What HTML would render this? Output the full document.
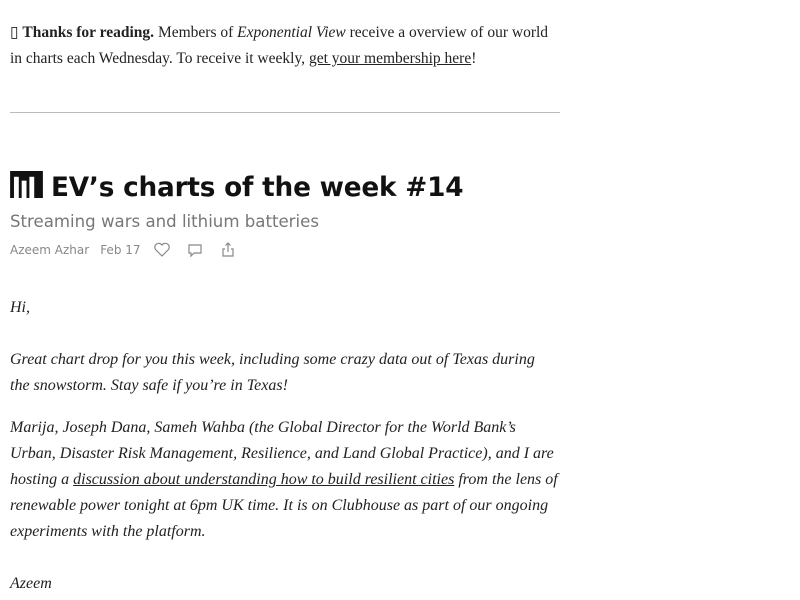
<!DOCTYPE html>
<html><head><meta charset="utf-8"><style>
body{margin:0;width:800px;height:600px;background:#fff;overflow:hidden;position:relative;font-family:"Liberation Serif",serif;color:#222}
.p{position:absolute;left:10px;width:548px;font-size:15.5px;line-height:26px;margin:0}
.it{font-style:italic;white-space:nowrap;width:560px;font-size:16px}
a{color:#222;text-decoration:underline}
h1{position:absolute;left:10px;top:168px;margin:0;font-family:"DejaVu Sans","Liberation Sans",sans-serif;font-weight:bold;font-size:26.3px;line-height:40px;color:#111;letter-spacing:-0.2px}
.sub{position:absolute;left:10px;top:208px;font-family:"DejaVu Sans","Liberation Sans",sans-serif;font-size:16.6px;color:#777;line-height:28px}
.meta{position:absolute;left:10px;top:240px;font-family:"DejaVu Sans","Liberation Sans",sans-serif;font-size:12px;color:#888;line-height:20px;display:flex;align-items:center}
</style></head><body>
<p class="p" style="top:20px">▯ <b>Thanks for reading.</b> Members of <i>Exponential View</i> receive a overview of our world in charts each Wednesday. To receive it weekly, <a>get your membership here</a>!</p>
<div style="position:absolute;left:10px;top:112px;width:550px;height:1px;background:#bbb"></div>
<h1><span style="display:inline-block;vertical-align:-2px;margin-right:8px"><svg width="33" height="27" viewBox="0 0 34 28"><rect x="0" y="0" width="34" height="28" fill="#111"/><rect x="4" y="6" width="5" height="22" fill="#fff"/><rect x="12" y="10" width="5" height="18" fill="#fff"/><rect x="20" y="6" width="5" height="22" fill="#fff"/></svg></span>EV’s charts of the week #14</h1>
<div class="sub">Streaming wars and lithium batteries</div>
<div class="meta">
<span>Azeem Azhar</span>
<span style="margin-left:11px">Feb 17</span>
<svg style="margin-left:12px" width="18" height="16" viewBox="0 0 18 16"><path d="M9 14 L2.5 7.5 A3.5 3.5 0 0 1 9 3 A3.5 3.5 0 0 1 15.5 7.5 Z" fill="none" stroke="#888" stroke-width="1.2"/></svg>
<svg style="margin-left:16px" width="16" height="16" viewBox="0 0 16 16"><path d="M2 3 H14 V11 H7 L4 14 V11 H2 Z" fill="none" stroke="#888" stroke-width="1.2"/></svg>
<svg style="margin-left:18px" width="14" height="16" viewBox="0 0 14 16"><path d="M4 7 H2 V14 H12 V7 H10 M7 10 V1 M4.5 3.5 L7 1 L9.5 3.5" fill="none" stroke="#888" stroke-width="1.2"/></svg>
</div>
<p class="p it" style="top:295px">Hi,</p>
<p class="p it" style="top:347px">Great chart drop for you this week, including some crazy data out of Texas during<br>the snowstorm. Stay safe if you’re in Texas!</p>
<p class="p it" style="top:415px">Marija, Joseph Dana, Sameh Wahba (the Global Director for the World Bank’s<br>Urban, Disaster Risk Management, Resilience, and Land Global Practice), and I are<br>hosting a <a>discussion about understanding how to build resilient cities</a> from the lens of<br>renewable power tonight at 6pm UK time. It is on Clubhouse as part of our ongoing<br>experiments with the platform.</p>
<p class="p it" style="top:571px">Azeem</p>
</body></html>
